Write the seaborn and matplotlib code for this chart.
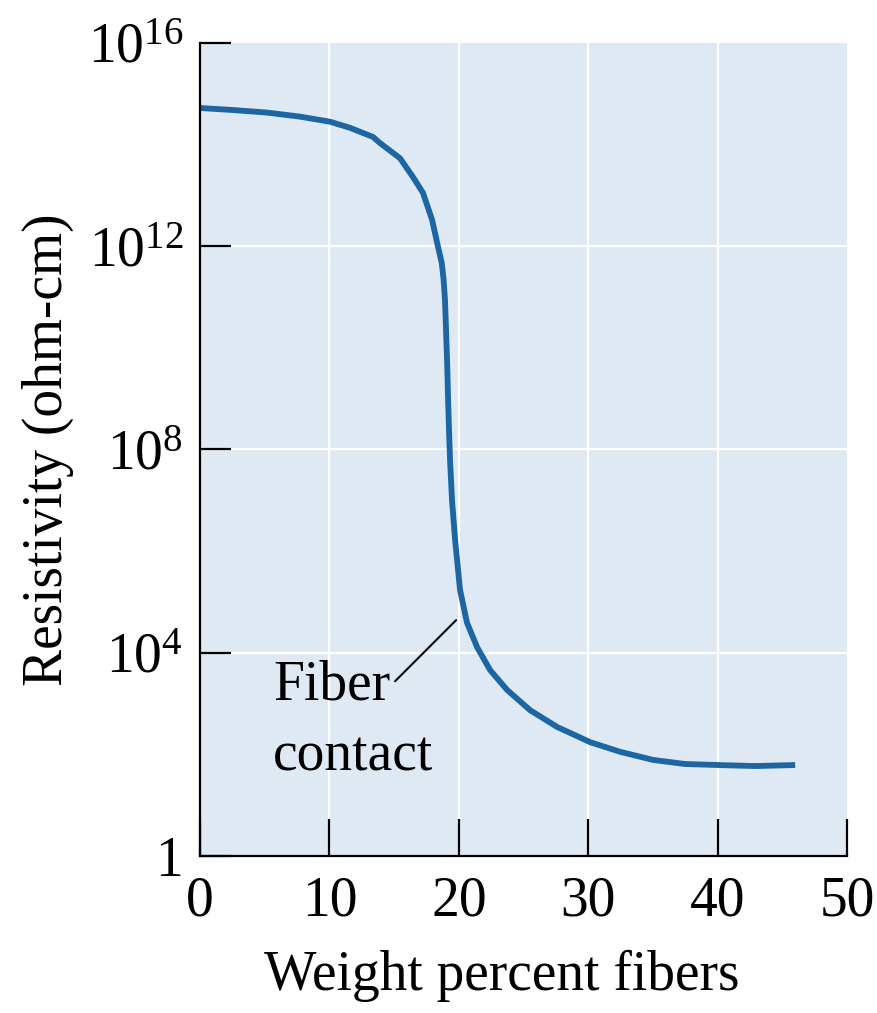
import numpy as np
import pandas as pd
import matplotlib
matplotlib.use("Agg")
import matplotlib.pyplot as plt
import seaborn as sns
from matplotlib.ticker import FixedLocator, FixedFormatter, NullLocator

# Data (x = weight percent fibers, log10 resistivity)
weight_pct = [0.0, 2.55, 5.18, 7.73, 10.05, 11.59, 13.37, 13.91, 15.46, 16.46, 17.23,
              17.93, 18.39, 18.68, 18.82, 18.93, 19.01, 19.09, 19.17, 19.24, 19.32, 19.47,
              19.71, 20.09, 20.63, 21.41, 22.41, 23.72, 25.50, 27.59, 30.14, 32.46,
              35.01, 37.48, 40.03, 42.89, 45.98]
log_resistivity = [14.72, 14.68, 14.63, 14.55, 14.45, 14.33, 14.15, 14.03, 13.73, 13.36,
                   13.05, 12.52, 11.99, 11.67, 11.35, 10.94, 10.35, 9.76, 8.97, 8.38, 7.79,
                   7.01, 6.22, 5.24, 4.59, 4.11, 3.66, 3.27, 2.87, 2.54, 2.24, 2.05,
                   1.89, 1.81, 1.79, 1.77, 1.79]
y_tick_values = [1, 1e4, 1e8, 1e12, 1e16]
y_tick_labels = ["1", r"$10^{4}$", r"$10^{8}$", r"$10^{12}$", r"$10^{16}$"]
x_tick_values = [0, 10, 20, 30, 40, 50]
x_tick_labels = ["0", "10", "20", "30", "40", "50"]

df = pd.DataFrame({"w": weight_pct, "rho": 10 ** np.array(log_resistivity)})

sns.set_style("white")
plt.rcParams["font.family"] = ["Liberation Serif", "DejaVu Serif"]
plt.rcParams["mathtext.fontset"] = "custom"
plt.rcParams["mathtext.rm"] = "Liberation Serif"
plt.rcParams["mathtext.it"] = "Liberation Serif:italic"
plt.rcParams["mathtext.bf"] = "Liberation Serif:bold"
plt.rcParams["text.color"] = "black"
plt.rcParams["axes.labelcolor"] = "black"
plt.rcParams["xtick.color"] = "black"
plt.rcParams["ytick.color"] = "black"

fig = plt.figure(figsize=(8.77, 10.13), dpi=100)
ax = fig.add_axes([0.228, 0.155, 0.738, 0.8026])
ax.set_facecolor("#dfe9f4")

sns.lineplot(data=df, x="w", y="rho", ax=ax, color="#1b66a3", linewidth=4.2,
             sort=False, estimator=None)
ax.lines[0].set_solid_joinstyle("round")
ax.lines[0].set_solid_capstyle("butt")

ax.set_yscale("log")
ax.set_xlim(0, 50)
ax.set_ylim(1, 1e16)

ax.yaxis.set_major_locator(FixedLocator(y_tick_values))
ax.yaxis.set_major_formatter(FixedFormatter(y_tick_labels))
ax.yaxis.set_minor_locator(NullLocator())
ax.xaxis.set_major_locator(FixedLocator(x_tick_values))
ax.xaxis.set_major_formatter(FixedFormatter(x_tick_labels))

# white grid lines
for xv in x_tick_values[1:-1]:
    ax.axvline(xv, color="white", lw=1.6, zorder=0.5)
for yv in y_tick_values[1:-1]:
    ax.axhline(yv, color="white", lw=1.6, zorder=0.5)

for s in ["top", "right"]:
    ax.spines[s].set_visible(False)
for s in ["left", "bottom"]:
    ax.spines[s].set_color("black")
    ax.spines[s].set_linewidth(1.6)

ax.tick_params(axis="y", which="major", left=True, direction="in", length=22, width=1.6,
               color="black", labelcolor="black", labelsize=40, pad=12)
ax.tick_params(axis="x", which="major", bottom=True, direction="in", length=27, width=1.6,
               color="black", labelcolor="black", labelsize=40, pad=14)

ax.set_xlabel("Weight percent fibers", fontsize=40, color="black")
ax.set_ylabel("Resistivity (ohm-cm)", fontsize=40, color="black", labelpad=10)
ax.xaxis.set_label_coords(0.466, -0.115)

# annotation
ax.annotate("", xy=(19.94, 10 ** 4.68), xytext=(14.92, 10 ** 3.40),
            arrowprops=dict(arrowstyle="-", color="black", lw=1.5))
ax.text(5.64, 10 ** 3.07, "Fiber", fontsize=40, va="baseline", ha="left", color="black")
ax.text(5.64, 10 ** 1.69, "contact", fontsize=40, va="baseline", ha="left", color="black")

fig.savefig("out.png", dpi=100)
